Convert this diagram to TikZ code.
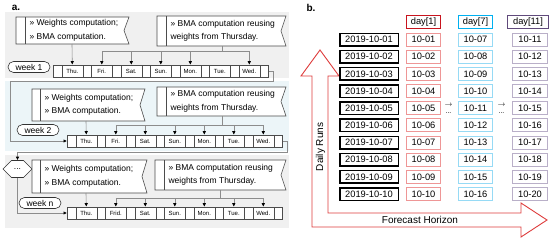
\documentclass[tikz,border=0pt]{standalone}
\usepackage{fontspec}
\setmainfont{Liberation Sans}
\usetikzlibrary{arrows.meta,shapes.symbols}
\definecolor{bandgray}{RGB}{240,240,240}
\definecolor{bandblue}{RGB}{236,245,248}
\definecolor{hred}{RGB}{200,20,30}
\definecolor{rred}{RGB}{238,150,150}
\definecolor{hcyan}{RGB}{0,176,240}
\definecolor{rcyan}{RGB}{150,218,245}
\definecolor{hpurple}{RGB}{96,74,123}
\definecolor{rpurple}{RGB}{185,175,200}
\definecolor{bigred}{RGB}{222,60,60}

\begin{document}
\begin{tikzpicture}[x=1pt, y=-1pt, font=\fontsize{8.5}{13.5}\selectfont,
    box/.style={draw=black!70, fill=white, line width=0.6pt},
    cell/.style={draw=black!70, fill=white, line width=0.6pt, inner sep=0pt, minimum height=12pt, anchor=west, font=\fontsize{6}{7}\selectfont},
    week/.style={draw=black!80, fill=white, line width=0.6pt, rounded corners=5.5pt, minimum width=42pt, minimum height=11pt, inner sep=0pt},
    link/.style={draw=black!45, line width=0.6pt},
    feed/.style={link, -{Latex[length=3.5pt, width=3.5pt, black]}},
    date/.style={draw=black, line width=1.5pt, minimum width=58.5pt, minimum height=12.5pt, inner sep=0pt, font=\fontsize{9.3}{10}\selectfont},
    run/.style={line width=0.8pt, minimum width=34pt, minimum height=13pt, inner sep=0pt, font=\fontsize{9.3}{10}\selectfont},
    head/.style={run, line width=1.2pt}]
    \useasboundingbox (0,0) rectangle (550,241);

    % panel a
    \node[font=\bfseries\fontsize{10}{12}\selectfont] (la) at (16,8) {a.};
    \fill[bandgray] (5,12) rectangle (289,78);
    \fill[bandblue] (5,81) rectangle (289,151);
    \fill[bandgray] (5,155) rectangle (289,228);

    % week 1
    \draw[box] (16,17) -- (129,17) -- (124,30.5) -- (129,44) -- (16,44) -- cycle;
    \draw[box] (25,17) -- (25,44);
    \node[anchor=west, align=left] (w1l) at (26,30.5) {» Weights computation;\\» BMA computation.};
    \draw[box] (157,16) -- (286,16) -- (281,31) -- (286,46) -- (157,46) -- cycle;
    \draw[box] (166,16) -- (166,46);
    \node[anchor=west, align=left] (w1r) at (167,31) {» BMA computation reusing\\weights from Thursday.};
    \node[week] (k1) at (29,67) {week 1};
    \foreach \d [count=\i from 0] in {Thu.,Fri.,Sat.,Sun.,Mon.,Tue.,Wed.} {
        \node[cell, minimum width=8.5pt] (w1n\i) at (53+\i*29.5,71) {};
        \node[cell, minimum width=21pt] (w1d\i) at (61.5+\i*29.5,71) {\d};
    }
    \node[cell, minimum width=8.5pt] (w1e) at (259.5,71) {};
    \coordinate (w1lb) at (72,44);
    \coordinate (w1rb) at (222,46);
    \coordinate (w1h) at (222,51);
    \draw[feed] (w1lb) -- (w1d0.north);
    \draw[link] (w1rb) -- (w1h);
    \draw[link] (w1d1.north |- w1h) -- (w1d6.north |- w1h);
    \foreach \j in {1,2,3,4,6}
        \draw[feed] (w1d\j.north |- w1h) -- (w1d\j.north);

    % week 2
    \draw[box] (32,89) -- (145,89) -- (140,105) -- (145,121) -- (32,121) -- cycle;
    \draw[box] (40,89) -- (40,121);
    \node[anchor=west, align=left] (w2l) at (41,105) {» Weights computation;\\» BMA computation.};
    \draw[box] (157,87) -- (286,87) -- (281,101.5) -- (286,116) -- (157,116) -- cycle;
    \draw[box] (166,87) -- (166,116);
    \node[anchor=west, align=left] (w2r) at (167,101.5) {» BMA computation reusing\\weights from Thursday.};
    \node[week] (k2) at (38,130) {week 2};
    \foreach \d [count=\i from 0] in {Thu.,Fri.,Sat.,Sun.,Mon.,Tue.,Wed.} {
        \node[cell, minimum width=8.5pt] (w2n\i) at (67+\i*29.5,141) {};
        \node[cell, minimum width=21pt] (w2d\i) at (75.5+\i*29.5,141) {\d};
    }
    \node[cell, minimum width=8.5pt] (w2e) at (273.5,141) {};
    \coordinate (w2lb) at (86,121);
    \coordinate (w2rb) at (222,116);
    \coordinate (w2h) at (222,125);
    \draw[feed] (w2lb) -- (w2d0.north);
    \draw[link] (w2rb) -- (w2h);
    \draw[link] (w2d1.north |- w2h) -- (w2d6.north |- w2h);
    \foreach \j in {1,...,6}
        \draw[feed] (w2d\j.north |- w2h) -- (w2d\j.north);

    % week n
    \node[signal, signal to=west and east, draw=black!80, fill=white, line width=0.6pt, minimum width=29pt, minimum height=17pt, inner sep=0pt] (dots) at (17.5,169) {...};
    \draw[box] (32,160) -- (147,160) -- (142,176.5) -- (147,193) -- (32,193) -- cycle;
    \draw[box] (40,160) -- (40,193);
    \node[anchor=west, align=left] (wnl) at (41,176.5) {» Weights computation;\\» BMA computation.};
    \draw[box] (155,160) -- (286,160) -- (281,175) -- (286,190) -- (155,190) -- cycle;
    \draw[box] (164,160) -- (164,190);
    \node[anchor=west, align=left] (wnr) at (165,175) {» BMA computation reusing\\weights from Thursday.};
    \node[week] (kn) at (40,203) {week n};
    \foreach \d [count=\i from 0] in {Thu.,Frid.,Sat.,Sun.,Mon.,Tue.,Wed.} {
        \node[cell, minimum width=8.5pt] (wnn\i) at (67+\i*29.5,213) {};
        \node[cell, minimum width=21pt] (wnd\i) at (75.5+\i*29.5,213) {\d};
    }
    \node[cell, minimum width=8.5pt] (wne) at (273.5,213) {};
    \coordinate (wnlb) at (86,193);
    \coordinate (wnrb) at (220,190);
    \coordinate (wnh) at (220,198);
    \draw[feed] (wnlb) -- (wnd0.north);
    \draw[link] (wnrb) -- (wnh);
    \draw[link] (wnd1.north |- wnh) -- (wnd6.north |- wnh);
    \foreach \j in {1,...,6}
        \draw[feed] (wnd\j.north |- wnh) -- (wnd\j.north);

    % week to week
    \draw[feed] (w1e.east) -- (273,71) -- (273,81) -- (10,81) |- (w2n0.west);
    \draw[feed] (w2e.east) -- (287,141) -- (287,152) -| (dots.north);
    \draw[feed] (dots.south) |- (wnn0.west);

    % panel b
    \node[font=\bfseries\fontsize{10}{12}\selectfont] (lb) at (311,8) {b.};
    \draw[bigred, line width=0.9pt, fill=white] (320,50) -- (339,76) -- (328,76) -- (328,213) -- (521,213) -- (521,203)
        -- (547,220) -- (521,237) -- (521,227) -- (312,227) -- (312,76) -- (301,76) -- cycle;
    \node[rotate=90, font=\fontsize{10}{12}\selectfont] (dr) at (320.5,147) {Daily Runs};
    \node[font=\fontsize{10}{12}\selectfont] (fh) at (420,220) {Forecast Horizon};

    \node[head, draw=hred] (h1) at (423.5,22) {day[1]};
    \node[head, draw=hcyan] (h7) at (475.5,22) {day[7]};
    \node[head, draw=hpurple, minimum width=41pt] (h11) at (528,22) {day[11]};
    \foreach \d/\c/\p [count=\i from 0] in {01/07/11,02/08/12,03/09/13,04/10/14,05/11/15,06/12/16,07/13/17,08/14/18,09/15/19,10/16/20} {
        \node[date] (t\i) at (369,39.5+\i*17.17) {2019-10-\d};
        \node[run, draw=rred] (r\i) at (423.5,39.5+\i*17.17) {10-\d};
        \node[run, draw=rcyan] (c\i) at (475.5,39.5+\i*17.17) {10-\c};
        \node[run, draw=rpurple, minimum width=35pt] (p\i) at (530,39.5+\i*17.17) {10-\p};
    }
    \node[font=\scriptsize] (g1) at (448.5,105) {$\rightarrow$};
    \node[font=\scriptsize] (g2) at (448.5,113) {...};
    \node[font=\scriptsize] (g3) at (501.5,105) {$\rightarrow$};
    \node[font=\scriptsize] (g4) at (501.5,113) {...};
\end{tikzpicture}
\end{document}
